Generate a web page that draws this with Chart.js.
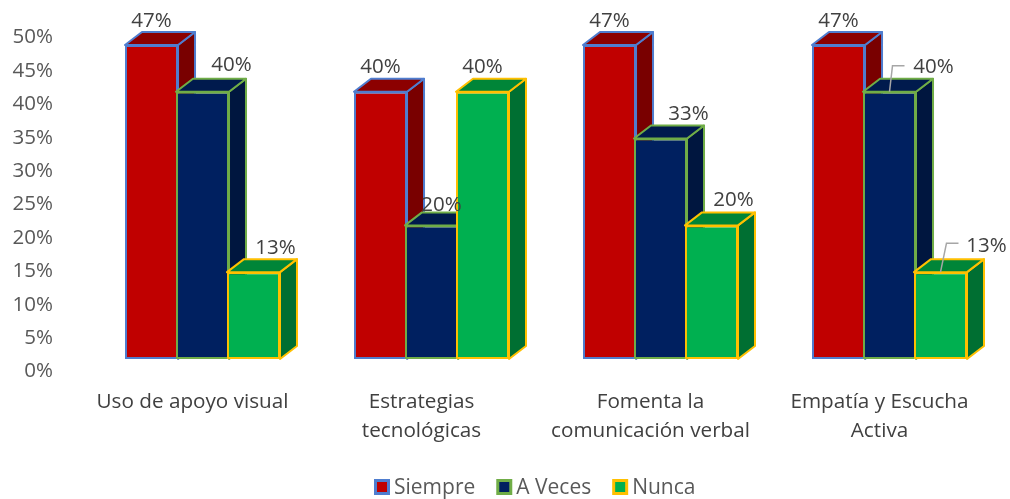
<!DOCTYPE html>
<html>
<head>
<meta charset="utf-8">
<title>Chart</title>
<script src="https://cdn.jsdelivr.net/npm/chart.js@4/dist/chart.umd.min.js"></script>
<style>
  html, body { margin: 0; padding: 0; background: #fff; }
  canvas { display: block; }
</style>
</head>
<body>
<canvas id="barsChart" width="1010" height="499"></canvas>
<script>
const categories = [
    'Uso de apoyo visual',
    ['Estrategias', 'tecnológicas'],
    ['Fomenta la', 'comunicación verbal'],
    ['Empatía y Escucha', 'Activa']
];
const seriesNames = ['Siempre', 'A Veces', 'Nunca'];
const siempre = [47, 40, 47, 47];
const aVeces = [40, 20, 33, 40];
const nunca = [13, 40, 20, 13];
const yTicksStep = 5;

const frontColors = ['#c00000', '#002060', '#00b050'];
const topColors = ['#8c0000', '#001a4d', '#008538'];
const sideColors = ['#790000', '#00163f', '#006f32'];
const borderColors = ['#4f7dcf', '#70ad47', '#ffc000'];

const fontFamily = '"Open Sans", sans-serif';
const depthX = 17;
const depthY = 13;

// where each value label sits, relative to the top centre of its bar
const labelOffsets = [
    [[0, -24], [0, -25], [0, -24], [0, -24]],
    [[29, -27], [10, -20], [28, -24], [44, -25]],
    [[22, -24], [0, -25], [22, -25], [46, -26]]
];
// only these two labels have a leader line in the original
const leaders = { '1-3': [3, -26], '2-3': [6, -29] };

const bars3d = {
    id: 'bars3d',
    // bars are drawn below, left to right, so each one overlaps the previous one
    beforeDatasetDraw: () => false,
    afterDatasetsDraw(chart) {
        const ctx = chart.ctx;
        chart.data.datasets.forEach((ds, i) => {
            chart.getDatasetMeta(i).data.forEach(bar => {
                const half = bar.width / 2;
                const l = bar.x - half, r = bar.x + half;
                ctx.save();
                ctx.strokeStyle = borderColors[i];
                ctx.lineWidth = 2;
                ctx.lineJoin = 'round';

                ctx.fillStyle = sideColors[i];
                ctx.beginPath();
                ctx.moveTo(r, bar.y);
                ctx.lineTo(r + depthX, bar.y - depthY);
                ctx.lineTo(r + depthX, bar.base - depthY);
                ctx.lineTo(r, bar.base);
                ctx.closePath();
                ctx.fill();
                ctx.stroke();

                ctx.fillStyle = topColors[i];
                ctx.beginPath();
                ctx.moveTo(l, bar.y);
                ctx.lineTo(l + depthX, bar.y - depthY);
                ctx.lineTo(r + depthX, bar.y - depthY);
                ctx.lineTo(r, bar.y);
                ctx.closePath();
                ctx.fill();
                ctx.stroke();
                ctx.restore();

                bar.draw(ctx);
            });
        });

        // value labels go on top of every bar
        ctx.save();
        ctx.font = '20.5px ' + fontFamily;
        ctx.textAlign = 'center';
        ctx.textBaseline = 'middle';
        chart.data.datasets.forEach((ds, i) => {
            chart.getDatasetMeta(i).data.forEach((bar, j) => {
                const [dx, dy] = labelOffsets[i][j];
                const leader = leaders[i + '-' + j];
                if (leader) {
                    const ex = bar.x + leader[0], ey = bar.y + leader[1];
                    ctx.strokeStyle = '#a6a6a6';
                    ctx.lineWidth = 1.5;
                    ctx.beginPath();
                    ctx.moveTo(bar.x, bar.y);
                    ctx.lineTo(ex, ey);
                    ctx.lineTo(ex + 12, ey);
                    ctx.stroke();
                }
                ctx.fillStyle = '#404040';
                ctx.fillText(ds.data[j] + '%', bar.x + dx, bar.y + dy);
            });
        });
        ctx.restore();

        // legend, the built in one leaves too wide a gap after the box
        ctx.save();
        ctx.font = '21px ' + fontFamily;
        ctx.textAlign = 'left';
        ctx.textBaseline = 'middle';
        let x = 374;
        chart.data.datasets.forEach((ds, i) => {
            ctx.fillStyle = borderColors[i];
            ctx.fillRect(x, 479, 16, 16);
            ctx.fillStyle = frontColors[i];
            ctx.fillRect(x + 3, 482, 10, 10);
            ctx.fillStyle = '#595959';
            ctx.fillText(ds.label, x + 20, 488.5);
            x += 20 + ctx.measureText(ds.label).width + 21;
        });
        ctx.restore();
    }
};

const seriesValues = [siempre, aVeces, nunca];

new Chart(document.getElementById('barsChart').getContext('2d'), {
    type: 'bar',
    data: {
        labels: categories,
        datasets: seriesNames.map((name, i) => ({
            label: name,
            data: seriesValues[i],
            yAxisID: 'yBars',
            backgroundColor: frontColors[i],
            borderColor: borderColors[i],
            borderWidth: 2,
            borderSkipped: false,
            barPercentage: 1.04,
            categoryPercentage: 0.668
        }))
    },
    options: {
        responsive: false,
        animation: false,
        layout: {
            padding: { top: 36, right: 6, left: 0, bottom: 0 }
        },
        plugins: {
            legend: { display: false },
            tooltip: { enabled: false }
        },
        scales: {
            x: {
                grid: { display: false, drawTicks: false },
                border: { display: false },
                afterFit: scale => { scale.height = 129; },
                ticks: {
                    padding: 18,
                    labelOffset: -10,
                    autoSkip: false,
                    maxRotation: 0,
                    color: '#404040',
                    font: { family: fontFamily, size: 20.7, lineHeight: 1.4 }
                }
            },
            y: {
                min: 0,
                max: 50,
                grid: { display: false, drawTicks: false },
                border: { display: false },
                // tick padding would otherwise also push the plot area in at top and bottom
                afterFit: scale => {
                    scale.width = 88;
                    scale.paddingTop = 0;
                    scale.paddingBottom = 0;
                },
                ticks: {
                    stepSize: yTicksStep,
                    padding: 35,
                    labelOffset: 1.5,
                    color: '#595959',
                    font: { family: fontFamily, size: 20.5 },
                    callback: v => v + '%'
                }
            },
            // same px per % as the visible axis, but the bars sit above the 0% label
            yBars: {
                display: false,
                min: -1.65,
                max: 48.35
            }
        }
    },
    plugins: [bars3d]
});
</script>
</body>
</html>
